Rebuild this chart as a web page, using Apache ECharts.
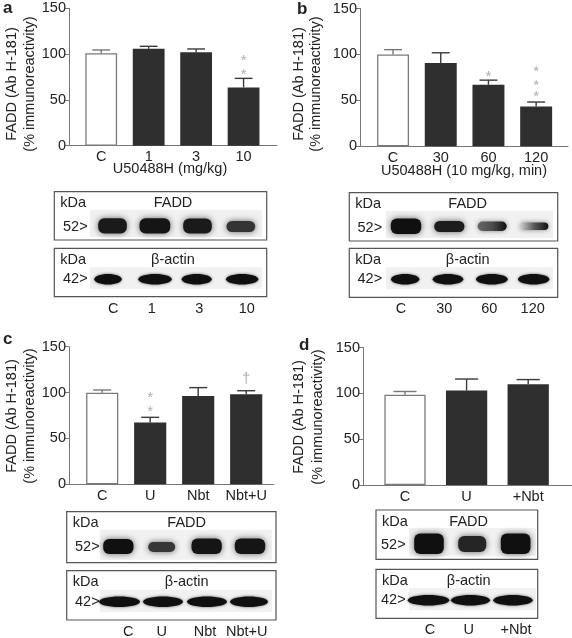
<!DOCTYPE html>
<html><head><meta charset="utf-8">
<script src="https://cdn.jsdelivr.net/npm/echarts/dist/echarts.min.js"></script>
<style>html,body{margin:0;padding:0;background:#fff}#c{width:572px;height:638px}</style>
</head><body><div id="c"></div>
<script>
// ---------- data ----------
const yTicks = [0, 50, 100, 150];
const catsA = ['C', '1', '3', '10'];
const valsA = [101, 105.8, 102, 63.5];
const errA = [104.5, 108.5, 105.6, 73.5];
const annCatA = [3, 3];
const annYA = [95.4, 80.8];
const annTxtA = ['*', '*'];

const catsB = ['C', '30', '60', '120'];
const valsB = [100, 90.8, 67, 43.3];
const errB = [105.2, 101.8, 72, 48.2];
const annCatB = [2, 3, 3, 3];
const annYB = [78.7, 84.2, 68.6, 56.6];
const annTxtB = ['*', '*', '*', '*'];

const catsC = ['C', 'U', 'Nbt', 'Nbt+U'];
const valsC = [99.9, 67.3, 96.3, 98.1];
const errC = [102.8, 73, 105.4, 102];
const annCatC = [1, 1, 3];
const annYC = [97.4, 81.8, 118.1];
const annTxtC = ['*', '*', '\u2020'];

const catsD = ['C', 'U', '+Nbt'];
const valsD = [98.5, 103, 110];
const errD = [102, 115.6, 115];
const annCatD = [];
const annYD = [];
const annTxtD = [];

// blot band intensities (1 = darkest)
const faddA = [0.96, 0.98, 0.96, 0.86];
const actinA = [1, 1, 1, 1];
const faddB = [1, 0.95, 0.9, 0.85];
const actinB = [1, 1, 1, 1];
const faddC = [1, 0.85, 0.98, 0.98];
const actinC = [1, 1, 1, 1];
const faddD = [1, 0.92, 1];
const actinD = [1, 1, 1];

const FONT = '"Liberation Sans", Arial, Helvetica, sans-serif';
const TXT = '#222';
const AX = '#777';

// ---------- layout ----------
const panels = [
  {cats: catsA, vals: valsA, err: errA, ac: annCatA, ay: annYA, at: annTxtA,
   barL: 77.5, barR: 267.3, axL: 69, axR: 277, top: 8.3, bottom: 145.7},
  {cats: catsB, vals: valsB, err: errB, ac: annCatB, ay: annYB, at: annTxtB,
   barL: 369.2, barR: 560, axL: 360, axR: 568, top: 8.5, bottom: 146.3},
  {cats: catsC, vals: valsC, err: errC, ac: annCatC, ay: annYC, at: annTxtC,
   barL: 78.2, barR: 270.2, axL: 69, axR: 274, top: 346.7, bottom: 484.3},
  {cats: catsD, vals: valsD, err: errD, ac: annCatD, ay: annYD, at: annTxtD,
   barL: 374.2, barR: 559, axL: 363, axR: 572, top: 347.5, bottom: 485}
];

const grid = [], xAxis = [], yAxis = [], series = [];
panels.forEach((p, i) => {
  const h = p.bottom - p.top;
  grid.push({left: p.barL, top: p.top, width: p.barR - p.barL, height: h});
  grid.push({left: p.axL, top: p.top, width: p.axR - p.axL, height: h});
  xAxis.push({type: 'category', gridIndex: 2 * i, data: p.cats,
    axisLine: {show: false}, axisTick: {show: false},
    axisLabel: {margin: 4, fontSize: 14.5, color: TXT, fontFamily: FONT, interval: 0}});
  yAxis.push({type: 'value', gridIndex: 2 * i, min: yTicks[0], max: yTicks[yTicks.length - 1],
    interval: yTicks[1] - yTicks[0], offset: p.barL - p.axL,
    axisLine: {show: true, lineStyle: {color: AX, width: 1}},
    axisTick: {show: true, length: 4, lineStyle: {color: AX}},
    splitLine: {show: false},
    axisLabel: {margin: 3, fontSize: 14.5, color: TXT, fontFamily: FONT}});
  xAxis.push({type: 'value', gridIndex: 2 * i + 1, min: 0, max: 1,
    axisLine: {show: true, onZero: false, lineStyle: {color: AX, width: 1}},
    axisTick: {show: false}, axisLabel: {show: false}, splitLine: {show: false}});
  yAxis.push({type: 'value', gridIndex: 2 * i + 1, min: 0, max: 1, show: false});

  series.push({type: 'bar', xAxisIndex: 2 * i, yAxisIndex: 2 * i, barWidth: '67%',
    silent: true, animation: false,
    data: p.vals.map((v, j) => ({value: v, itemStyle: j === 0
      ? {color: '#fff', borderColor: '#7a7a7a', borderWidth: 1.3}
      : {color: '#2f2f2f'}}))});
  series.push({type: 'custom', xAxisIndex: 2 * i, yAxisIndex: 2 * i, z: 5, animation: false,
    data: p.vals.map((v, j) => [j, v, p.err[j]]),
    encode: {x: 0, y: [1, 2]},
    renderItem: function (params, api) {
      const x = api.value(0), v = api.value(1), e = api.value(2);
      const p0 = api.coord([x, v]), p1 = api.coord([x, e]);
      const bw = api.size([1, 0])[0] * 0.67, cw = bw * 0.56;
      const col = x === 0 ? '#777' : '#3a3a3a';
      return {type: 'group', children: [
        {type: 'line', shape: {x1: p0[0], y1: p0[1], x2: p1[0], y2: p1[1]}, style: {stroke: col, lineWidth: 1.4}},
        {type: 'line', shape: {x1: p1[0] - cw / 2, y1: p1[1], x2: p1[0] + cw / 2, y2: p1[1]}, style: {stroke: col, lineWidth: 1.4}}
      ]};
    }});
  if (p.ac.length) {
    series.push({type: 'scatter', xAxisIndex: 2 * i, yAxisIndex: 2 * i, symbolSize: 1, animation: false,
      itemStyle: {color: 'rgba(0,0,0,0)'},
      data: p.ac.map((c, j) => ({value: [c, p.ay[j]], label: {formatter: p.at[j]}})),
      label: {show: true, position: 'inside', offset: [0, 3], fontSize: 15, color: '#999', fontFamily: FONT}});
  }
});

// ---------- graphic (titles, labels, blots) ----------
const G = [];
function txt(s, x, y, o) {
  o = o || {};
  G.push({type: 'text', x: x, y: y, rotation: o.rot || 0, z: 20,
    style: {text: s, font: (o.bold ? 'bold ' : '') + (o.size || 14.5) + 'px ' + FONT,
      fill: o.color || TXT, align: o.align || 'center', verticalAlign: o.va || 'middle'}});
}
function rect(x1, y1, x2, y2, st) {
  G.push({type: 'rect', z: 10, shape: {x: x1, y: y1, width: x2 - x1, height: y2 - y1}, style: st});
}
function shade(int) {
  const g = Math.round(16 + (1 - int) * 260);
  return 'rgb(' + g + ',' + g + ',' + g + ')';
}
function faddBand(x1, x2, y1, y2, int) {
  G.push({type: 'rect', z: 12, shape: {x: x1 + 1.5, y: y1 + 1.5, width: x2 - x1 - 3, height: y2 - y1 - 3, r: 6},
    style: {fill: shade(int), shadowBlur: 6, shadowColor: 'rgba(50,50,50,0.75)'}});
}
function fadeBand(x1, x2, y1, y2, int, light) {
  G.push({type: 'rect', z: 12, shape: {x: x1 + 1, y: y1 + 1.5, width: x2 - x1 - 2, height: y2 - y1 - 3, r: 6},
    style: {fill: {type: 'linear', x: 0, y: 0, x2: 1, y2: 0, colorStops: [
      {offset: 0, color: light}, {offset: 0.5, color: shade(int * 0.85)}, {offset: 1, color: shade(1)}]},
      shadowBlur: 5, shadowColor: 'rgba(60,60,60,0.6)'}});
}
function actinBand(x1, x2, yc, h, int) {
  G.push({type: 'ellipse', z: 12, shape: {cx: (x1 + x2) / 2, cy: yc, rx: (x2 - x1) / 2, ry: h / 2},
    style: {fill: shade(int), shadowBlur: 3, shadowColor: 'rgba(0,0,0,0.6)'}});
}
function blot(b) {
  rect(b.x1, b.fy1, b.x2, b.fy2, {fill: '#fff', stroke: '#555', lineWidth: 1.2});
  rect(b.bgx1, b.fy1 + 18, b.bgx2, b.fy2 - 3, {fill: '#f1f1f1'});
  txt('kDa', b.x1 + 6, b.fy1 + 11.5, {align: 'left'});
  txt('FADD', b.tx, b.fy1 + 11.5);
  txt('52>', b.mx, b.fy1 + 35, {align: 'left'});
  b.fb.forEach((f, j) => {
    if (b.fade && b.fade[j]) fadeBand(f[0], f[1], f[2], f[3], b.fi[j], b.fade[j]);
    else faddBand(f[0], f[1], f[2], f[3], b.fi[j]);
  });
  rect(b.x1, b.ay1, b.x2, b.ay2, {fill: '#fff', stroke: '#555', lineWidth: 1.2});
  rect(b.bgx1, b.ay1 + 19, b.bgx2, b.ay2 - 8, {fill: '#f1f1f1'});
  txt('kDa', b.x1 + 6, b.ay1 + 11.5, {align: 'left'});
  txt('\u03b2-actin', b.tx, b.ay1 + 11.5);
  txt('42>', b.mx, b.ay1 + 31, {align: 'left'});
  b.ab.forEach((a, j) => actinBand(a[0], a[1], b.ay1 + 31, 10.5, b.ai[j]));
  b.lx.forEach((x, j) => txt(b.lanes[j], x, b.ly));
}

// panel letters
txt('a', 3, 8, {bold: true, size: 17, align: 'left'});
txt('b', 297, 9.5, {bold: true, size: 17, align: 'left'});
txt('c', 3, 339.5, {bold: true, size: 17, align: 'left'});
txt('d', 299, 345.5, {bold: true, size: 17, align: 'left'});

// y titles
[[11.7, 29.8, 84], [298.5, 316, 84], [11.7, 30, 416], [299.3, 317.5, 417]].forEach(t => {
  txt('FADD (Ab H-181)', t[0], t[2], {rot: Math.PI / 2});
  txt('(% immunoreactivity)', t[1], t[2], {rot: Math.PI / 2});
});
// x titles
txt('U50488H (mg/kg)', 170, 168.5);
txt('U50488H (10 mg/kg, min)', 464, 170.5);

blot({x1: 54.3, x2: 266.7, fy1: 191.7, fy2: 240, ay1: 248.3, ay2: 296.7, bgx1: 90, bgx2: 262, tx: 173, mx: 63,
  fb: [[96.7, 128.3, 216.7, 235], [138, 171.7, 216.7, 235], [181.7, 213.3, 217, 235], [225, 256.7, 219.5, 233.5]], fi: faddA,
  ab: [[94.3, 121.7], [138.3, 171.7], [181.7, 211.7], [226, 258.3]], ai: actinA,
  lanes: catsA, lx: [113.3, 151.7, 199.3, 246.7], ly: 309});
blot({x1: 349.3, x2: 557.7, fy1: 192.7, fy2: 241, ay1: 248.3, ay2: 297.3, bgx1: 386, bgx2: 553, tx: 467.7, mx: 357.5,
  fb: [[389.3, 422.7, 217, 235.5], [432.7, 466, 219.5, 233.5], [476.7, 507.7, 220, 232.5], [519.3, 549.3, 221, 231.5]], fi: faddB,
  fade: [null, null, '#666', '#cfcfcf'],
  ab: [[391, 419.3], [432.7, 463.3], [476, 507.7], [518, 549.3]], ai: actinB,
  lanes: catsB, lx: [401, 444.3, 489.3, 532.7], ly: 309});
blot({x1: 66.7, x2: 276, fy1: 511.7, fy2: 562.7, ay1: 570.7, ay2: 620, bgx1: 100, bgx2: 272, tx: 186.7, mx: 75,
  fb: [[101.7, 135, 537.5, 555.5], [146.7, 176.7, 540.5, 553.5], [190, 223.3, 537, 555.5], [233.3, 266.7, 537, 555.5]], fi: faddC,
  ab: [[99, 140], [143, 183], [187, 227], [230, 268]], ai: actinC,
  lanes: catsC, lx: [128.3, 161.7, 205, 246.7], ly: 631.7});
blot({x1: 376, x2: 537.7, fy1: 510, fy2: 559.3, ay1: 569.3, ay2: 618.3, bgx1: 409, bgx2: 536, tx: 468.7, mx: 381,
  fb: [[412.7, 445.3, 532, 555.5], [456.7, 487.7, 534.5, 553.5], [499.3, 532, 532, 555.5]], fi: faddD,
  ab: [[407.7, 449.3], [451, 490], [493.3, 532.7]], ai: actinD,
  lanes: catsD, lx: [430, 468.7, 516], ly: 630});

const chart = echarts.init(document.getElementById('c'), null, {renderer: 'canvas', devicePixelRatio: 1});
chart.setOption({
  animation: false,
  backgroundColor: '#fff',
  textStyle: {fontFamily: FONT},
  grid: grid, xAxis: xAxis, yAxis: yAxis, series: series,
  graphic: {elements: G}
});
</script></body></html>
